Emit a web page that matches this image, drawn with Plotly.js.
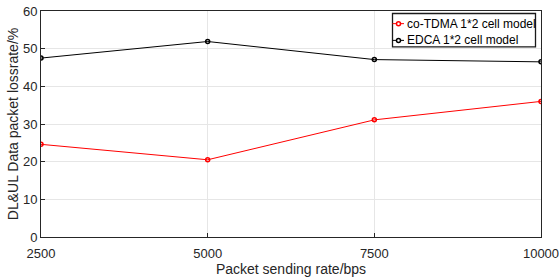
<!DOCTYPE html>
<html><head><meta charset="utf-8">
<script src="https://cdn.plot.ly/plotly-3.0.1.min.js"></script>
<style>html,body{margin:0;padding:0;background:#fff}#c{width:559px;height:278px}</style>
</head><body><div id="c"></div>
<script>
const rates = [2500, 5000, 7500, 10000];
const coTDMA = [24.6, 20.5, 31.1, 36.0];
const edca = [47.5, 51.9, 47.1, 46.5];
const seriesNames = ['co-TDMA 1*2 cell model', 'EDCA 1*2 cell model'];
const seriesColors = ['#ff0000', '#000000'];
const xTicks = [2500, 5000, 7500, 10000];
const yTicks = [0, 10, 20, 30, 40, 50, 60];

const FONT = 'Liberation Sans, Arial, sans-serif';
const traces = [coTDMA, edca].map((ys, i) => ({
  x: rates, y: ys, name: seriesNames[i], mode: 'lines+markers', showlegend: false,
  line: {color: seriesColors[i], width: 1},
  marker: {symbol: 'circle-open', size: 4, color: seriesColors[i], line: {width: 1.5}}
}));

// custom legend (MATLAB-style short samples)
const lg = {x0: 0.703, x1: 0.989, y0: 0.841, y1: 0.989, rows: [0.944, 0.870], lx0: 0.703, lx1: 0.726, mx: 0.715, tx: 0.728};
const shapes = [
  {type: 'rect', xref: 'paper', yref: 'paper', x0: lg.x0, x1: lg.x1, y0: lg.y0, y1: lg.y1,
   line: {color: '#1a1a1a', width: 1.3}, fillcolor: '#ffffff', layer: 'above'}
];
const annotations = [];
seriesNames.forEach((n, i) => {
  const yy = lg.rows[i];
  shapes.push({type: 'line', xref: 'paper', yref: 'paper', x0: lg.lx0, x1: lg.lx1, y0: yy, y1: yy,
    line: {color: seriesColors[i], width: 1}, layer: 'above'});
  shapes.push({type: 'circle', xref: 'paper', yref: 'paper', xsizemode: 'pixel', ysizemode: 'pixel',
    xanchor: lg.mx, yanchor: yy, x0: -2, x1: 2, y0: -2, y1: 2,
    line: {color: seriesColors[i], width: 1.5}, fillcolor: '#ffffff', layer: 'above'});
  annotations.push({xref: 'paper', yref: 'paper', x: lg.tx, y: yy, xanchor: 'left', yanchor: 'middle',
    text: n, showarrow: false, font: {family: FONT, size: 12, color: '#000'}});
});

const axisBase = {showline: true, mirror: true, linecolor: '#262626', linewidth: 1,
  ticks: 'inside', ticklen: 4, tickcolor: '#262626', showgrid: true, gridcolor: '#e6e6e6', gridwidth: 1,
  zeroline: false, tickfont: {family: FONT, size: 13, color: '#262626'}};
const layout = {
  width: 559, height: 278, margin: {l: 41, r: 18, t: 11, b: 41},
  paper_bgcolor: '#fff', plot_bgcolor: '#fff',
  font: {family: FONT, color: '#262626'},
  xaxis: Object.assign({}, axisBase, {range: [2500, 10000], tickvals: xTicks, ticktext: xTicks.map(String),
    ticklabelstandoff: 4, ticklabeloverflow: 'allow',
    title: {text: 'Packet sending rate/bps', font: {size: 14, color: '#262626'}, standoff: 2}}),
  yaxis: Object.assign({}, axisBase, {range: [0, 60], tickvals: yTicks,
    title: {text: 'DL&UL Data packet lossrate/%', font: {size: 14, color: '#262626'}, standoff: 1}}),
  shapes: shapes, annotations: annotations,
  showlegend: false
};
Plotly.newPlot('c', traces, layout, {displayModeBar: false, staticPlot: true});
</script></body></html>
